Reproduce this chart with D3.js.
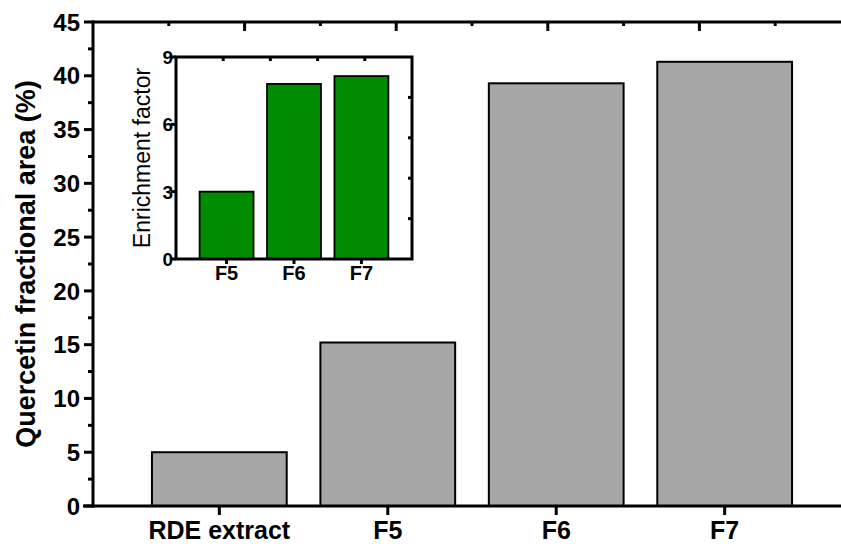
<!DOCTYPE html>
<html><head><meta charset="utf-8">
<script src="https://cdn.jsdelivr.net/npm/d3@7"></script>
<style>body{margin:0;background:#fff}svg{display:block;font-family:"Liberation Sans",Arial,sans-serif}</style>
</head><body>
<script>
// Main chart data
const categories = ["RDE extract", "F5", "F6", "F7"];
const fractionalArea = [5.0, 15.2, 39.3, 41.3];
const yTicks = [0, 5, 10, 15, 20, 25, 30, 35, 40, 45];
const yMinorTicks = [2.5, 7.5, 12.5, 17.5, 22.5, 27.5, 32.5, 37.5, 42.5];
const topMajor = [1, 2, 3, 4];
const topMinor = [0.5, 1.5, 2.5, 3.5, 4.5];
// Inset data
const insetCategories = ["F5", "F6", "F7"];
const enrichment = [3.0, 7.8, 8.15];
const insetYTicks = [0, 3, 6, 9];
const insetMirrorTicks = [1, 2, 3, 4];

const W = 841, H = 544;
const svg = d3.select("body").append("svg").attr("width", W).attr("height", H);

// ---------- main chart ----------
const x = d3.scaleLinear().domain([0.25, 4.75]).range([93, 851]);
const y = d3.scaleLinear().domain([0, 45]).range([506, 22]);
const xTop = d3.scaleLinear().domain([0, 5]).range([93, 851]);
const step = x(2) - x(1);
const bw = step * 0.8;

svg.append("g").selectAll("rect").data(fractionalArea).join("rect")
  .attr("x", (d, i) => x(i + 1) - bw / 2)
  .attr("y", d => y(d))
  .attr("width", bw)
  .attr("height", d => y(0) - y(d))
  .attr("fill", "#a6a6a6").attr("stroke", "#000").attr("stroke-width", 2);

// left axis
const gl = svg.append("g");
gl.append("line").attr("x1", 93).attr("x2", 93).attr("y1", y(45) - 1.5).attr("y2", y(0) + 1.5).attr("stroke", "#000").attr("stroke-width", 3);
gl.selectAll(".maj").data(yTicks).join("line").attr("class", "maj")
  .attr("x1", 84).attr("x2", 93).attr("y1", d => y(d)).attr("y2", d => y(d)).attr("stroke", "#000").attr("stroke-width", 3);
gl.selectAll(".min").data(yMinorTicks).join("line").attr("class", "min")
  .attr("x1", 88).attr("x2", 93).attr("y1", d => y(d)).attr("y2", d => y(d)).attr("stroke", "#000").attr("stroke-width", 3);
gl.selectAll("text").data(yTicks).join("text")
  .attr("x", 80).attr("y", d => y(d)).attr("dy", "0.36em").attr("text-anchor", "end")
  .attr("font-size", 24).attr("font-weight", "bold").text(d => d);

// bottom axis
const gb = svg.append("g");
gb.append("line").attr("x1", 83).attr("x2", W).attr("y1", y(0)).attr("y2", y(0)).attr("stroke", "#000").attr("stroke-width", 3);
gb.selectAll("line.t").data(categories).join("line").attr("class", "t")
  .attr("x1", (d, i) => x(i + 1)).attr("x2", (d, i) => x(i + 1))
  .attr("y1", y(0)).attr("y2", y(0) + 9).attr("stroke", "#000").attr("stroke-width", 3);
gb.selectAll("text").data(categories).join("text")
  .attr("x", (d, i) => x(i + 1)).attr("y", 539).attr("text-anchor", "middle")
  .attr("font-size", 25).attr("font-weight", "bold").text(d => d);

// top axis (mirror)
const gt = svg.append("g");
gt.append("line").attr("x1", 93).attr("x2", W).attr("y1", 22).attr("y2", 22).attr("stroke", "#000").attr("stroke-width", 3);
gt.selectAll("line.M").data(topMajor).join("line").attr("class", "M")
  .attr("x1", d => xTop(d)).attr("x2", d => xTop(d)).attr("y1", 22).attr("y2", 31).attr("stroke", "#000").attr("stroke-width", 3);
gt.selectAll("line.m").data(topMinor).join("line").attr("class", "m")
  .attr("x1", d => xTop(d)).attr("x2", d => xTop(d)).attr("y1", 22).attr("y2", 26).attr("stroke", "#000").attr("stroke-width", 3);

// y title
svg.append("text").attr("transform", `translate(35,${(y(0) + y(45)) / 2}) rotate(-90)`)
  .attr("text-anchor", "middle").attr("font-size", 27).attr("font-weight", "bold")
  .text("Quercetin fractional area (%)");

// ---------- inset ----------
const ix = d3.scaleLinear().domain([0.25, 3.75]).range([176, 412]);
const iy = d3.scaleLinear().domain([0, 9]).range([259, 57]);
const ixTop = d3.scaleLinear().domain([0, 5]).range([176, 412]);
const iyRight = d3.scaleLinear().domain([0, 5]).range([259, 57]);
const istep = ix(2) - ix(1);
const ibw = istep * 0.8;
const gi = svg.append("g");
gi.append("rect").attr("x", 176).attr("y", 57).attr("width", 236).attr("height", 202).attr("fill", "#fff");
gi.selectAll("rect.b").data(enrichment).join("rect").attr("class", "b")
  .attr("x", (d, i) => ix(i + 1) - ibw / 2).attr("y", d => iy(d))
  .attr("width", ibw).attr("height", d => iy(0) - iy(d))
  .attr("fill", "#008c00").attr("stroke", "#000").attr("stroke-width", 1.8);
gi.append("rect").attr("x", 176).attr("y", 57).attr("width", 236).attr("height", 202)
  .attr("fill", "none").attr("stroke", "#000").attr("stroke-width", 3);
gi.selectAll("line.l").data(insetYTicks).join("line").attr("class", "l")
  .attr("x1", 171).attr("x2", 176).attr("y1", d => iy(d)).attr("y2", d => iy(d)).attr("stroke", "#000").attr("stroke-width", 3);
gi.selectAll("text.l").data(insetYTicks).join("text").attr("class", "l")
  .attr("x", 173).attr("y", d => iy(d)).attr("dy", "0.36em").attr("text-anchor", "end")
  .attr("font-size", 19).attr("font-weight", "bold").text(d => d);
gi.selectAll("line.bt").data(insetCategories).join("line").attr("class", "bt")
  .attr("x1", (d, i) => ix(i + 1)).attr("x2", (d, i) => ix(i + 1)).attr("y1", 259).attr("y2", 264).attr("stroke", "#000").attr("stroke-width", 3);
gi.selectAll("text.bt").data(insetCategories).join("text").attr("class", "bt")
  .attr("x", (d, i) => ix(i + 1)).attr("y", 280).attr("text-anchor", "middle")
  .attr("font-size", 20).attr("font-weight", "bold").text(d => d);
gi.selectAll("line.tt").data(insetMirrorTicks).join("line").attr("class", "tt")
  .attr("x1", d => ixTop(d)).attr("x2", d => ixTop(d)).attr("y1", 57).attr("y2", 61).attr("stroke", "#000").attr("stroke-width", 3);
gi.selectAll("line.rt").data(insetMirrorTicks).join("line").attr("class", "rt")
  .attr("x1", 408).attr("x2", 412).attr("y1", d => iyRight(d)).attr("y2", d => iyRight(d)).attr("stroke", "#000").attr("stroke-width", 3);
gi.append("text").attr("transform", `translate(150,${(iy(0) + iy(9)) / 2}) rotate(-90)`)
  .attr("text-anchor", "middle").attr("font-size", 23).attr("font-weight", 500).text("Enrichment factor");
</script>
</body></html>
